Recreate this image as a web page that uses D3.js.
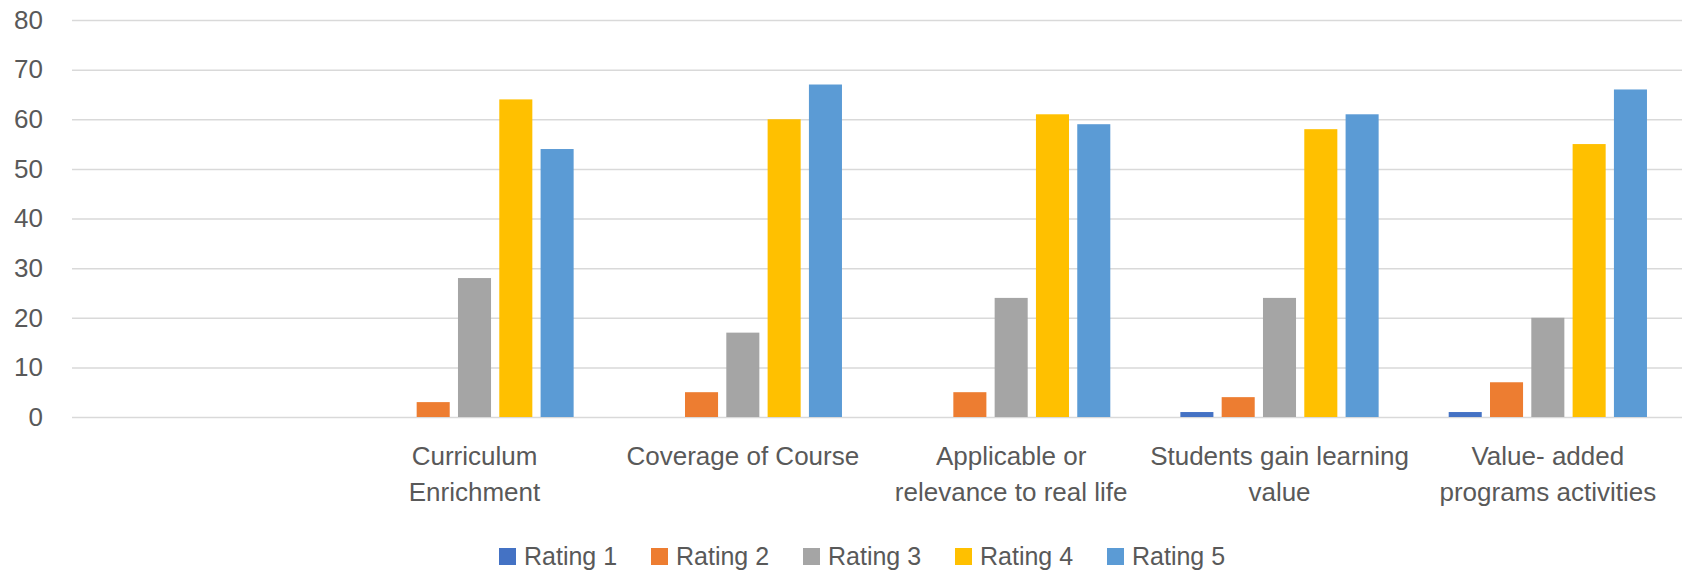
<!DOCTYPE html>
<html>
<head>
<meta charset="utf-8">
<script src="https://cdn.jsdelivr.net/npm/d3@7"></script>
<style>
  body { margin: 0; background: #fff; }
  text { font-family: "Liberation Sans", Arial, sans-serif; fill: #595959; }
</style>
</head>
<body>
<div id="chart"></div>
<script>
// categories (first slot is an empty category, as in the source)
var categories = ["", "Curriculum\nEnrichment", "Coverage of Course",
  "Applicable or\nrelevance to real life", "Students gain learning\nvalue",
  "Value- added\nprograms activities"];

var seriesNames = ["Rating 1", "Rating 2", "Rating 3", "Rating 4", "Rating 5"];
var seriesColors = ["#4472C4", "#ED7D31", "#A5A5A5", "#FFC000", "#5B9BD5"];

var rating1 = [null, 0, 0, 0, 1, 1];
var rating2 = [null, 3, 5, 5, 4, 7];
var rating3 = [null, 28, 17, 24, 24, 20];
var rating4 = [null, 64, 60, 61, 58, 55];
var rating5 = [null, 54, 67, 59, 61, 66];

var yTicks = [0, 10, 20, 30, 40, 50, 60, 70, 80];

var allSeries = [rating1, rating2, rating3, rating4, rating5];

var W = 1686, H = 575;
var plotLeft = 72, plotRight = 1682, plotTop = 20, plotBottom = 417;

var svg = d3.select("#chart")
  .append("svg")
    .attr("width", W)
    .attr("height", H);

var x0 = d3.scaleBand()
  .domain(d3.range(categories.length))
  .range([plotLeft, plotRight])
  .padding(0);

var x1 = d3.scaleBand()
  .domain(seriesNames)
  .range([0, x0.bandwidth()])
  .paddingInner(0.2)
  .paddingOuter(0.848);

var y = d3.scaleLinear()
  .domain([0, 80])
  .range([plotBottom, plotTop]);

// gridlines
var grid = svg.append("g")
  .attr("transform", "translate(" + plotLeft + ",0)")
  .call(d3.axisLeft(y).tickValues(yTicks).tickSize(-(plotRight - plotLeft)).tickFormat(""));
grid.select(".domain").remove();
grid.selectAll("line").attr("stroke", "#d9d9d9").attr("stroke-width", 1.5);

// y labels
var yAxis = svg.append("g")
  .attr("transform", "translate(43,0)")
  .call(d3.axisLeft(y).tickValues(yTicks).tickSize(0).tickPadding(0));
yAxis.select(".domain").remove();
yAxis.selectAll("text")
  .attr("font-size", 26)
  .style("font-family", "'Liberation Sans', Arial, sans-serif")
  .attr("fill", "#595959");

// bars
var rows = [];
categories.forEach(function(c, i) {
  seriesNames.forEach(function(s, j) {
    var v = allSeries[j][i];
    if (v !== null) rows.push({cat: i, series: s, idx: j, value: v});
  });
});

svg.append("g").selectAll("rect")
  .data(rows)
  .enter()
  .append("rect")
    .attr("x", function(d) { return x0(d.cat) + x1(d.series); })
    .attr("y", function(d) { return y(d.value); })
    .attr("width", x1.bandwidth())
    .attr("height", function(d) { return y(0) - y(d.value); })
    .attr("fill", function(d) { return seriesColors[d.idx]; });

// category labels
var labels = svg.append("g").selectAll("text")
  .data(categories)
  .enter()
  .append("text")
    .attr("x", function(d, i) { return x0(i) + x0.bandwidth() / 2; })
    .attr("y", 465)
    .attr("text-anchor", "middle")
    .attr("font-size", 26);

labels.each(function(d, i) {
  var t = d3.select(this);
  d.split("\n").forEach(function(line, k) {
    t.append("tspan")
      .attr("x", x0(i) + x0.bandwidth() / 2)
      .attr("dy", k == 0 ? 0 : 36)
      .text(line);
  });
});

// legend
var legend = svg.append("g").selectAll("g")
  .data(seriesNames)
  .enter()
  .append("g")
    .attr("transform", function(d, i) { return "translate(" + (499 + i * 152) + ",0)"; });

legend.append("rect")
  .attr("x", 0)
  .attr("y", 548)
  .attr("width", 17)
  .attr("height", 17)
  .attr("fill", function(d, i) { return seriesColors[i]; });

legend.append("text")
  .attr("x", 25)
  .attr("y", 565)
  .attr("font-size", 25)
  .text(function(d) { return d; });
</script>
</body>
</html>
